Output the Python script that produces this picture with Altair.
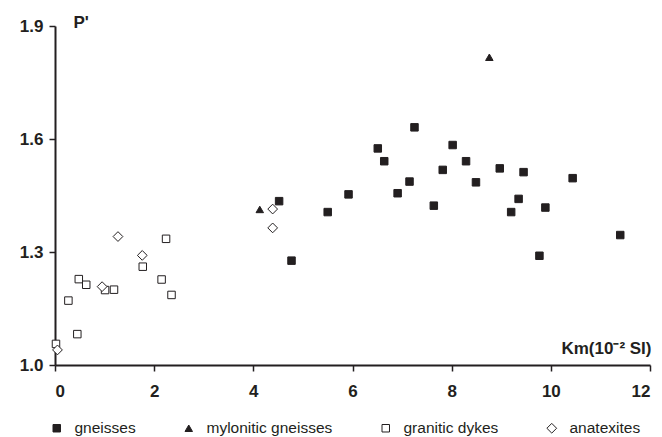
import altair as alt
import pandas as pd

types = ["gneisses", "mylonitic gneisses", "granitic dykes", "anatexites"]

gneiss_km = [4.52, 4.77, 5.50, 5.92, 6.51, 6.64, 6.91, 7.15, 7.25, 7.64, 7.82,
             8.02, 8.29, 8.49, 8.97, 9.20, 9.35, 9.45, 9.77, 9.89, 10.44, 11.40]
gneiss_p = [1.435, 1.277, 1.406, 1.453, 1.575, 1.541, 1.456, 1.487, 1.631, 1.423, 1.518,
            1.584, 1.541, 1.485, 1.522, 1.406, 1.441, 1.512, 1.290, 1.418, 1.496, 1.345]

mylo_km = [4.13, 8.76]
mylo_p = [1.413, 1.817]

dyke_km = [0.02, 0.45, 0.27, 0.48, 0.63, 1.01, 1.19, 1.77, 2.15, 2.24, 2.35]
dyke_p = [1.056, 1.082, 1.171, 1.228, 1.213, 1.199, 1.200, 1.261, 1.227, 1.335, 1.186]

anat_km = [0.05, 0.95, 1.27, 1.76, 4.39, 4.39]
anat_p = [1.040, 1.208, 1.341, 1.291, 1.414, 1.364]

x_ticks = [0, 2, 4, 6, 8, 10, 12]
y_ticks = [1.0, 1.3, 1.6, 1.9]

rows = []
for t, ks, ps in zip(types, [gneiss_km, mylo_km, dyke_km, anat_km],
                     [gneiss_p, mylo_p, dyke_p, anat_p]):
    for k, p in zip(ks, ps):
        rows.append({"km": k, "p": p, "type": t})
df = pd.DataFrame(rows)

ink = "#231f20"
font = "Liberation Sans"

chart = alt.Chart(df).mark_point(filled=True, strokeWidth=1, opacity=1).encode(
    x=alt.X("km:Q", scale=alt.Scale(domain=[0, 12], nice=False, zero=False),
            axis=alt.Axis(values=x_ticks, format="d", title="Km(10\u207b\u00b2 SI)",
                          titleX=596, titleY=-12, titleAlign="right", titleBaseline="alphabetic",
                          titleAngle=0)),
    y=alt.Y("p:Q", scale=alt.Scale(domain=[1.0, 1.9], nice=False, zero=False),
            axis=alt.Axis(values=y_ticks, format=".1f", title="P'",
                          titleX=18, titleY=1, titleAlign="left", titleBaseline="alphabetic",
                          titleAngle=0)),
    shape=alt.Shape("type:N", scale=alt.Scale(domain=types,
                    range=["square", "triangle-up", "square", "diamond"]),
                    legend=alt.Legend(title=None)),
    fill=alt.Fill("type:N", scale=alt.Scale(domain=types,
                  range=[ink, ink, "white", "white"]), legend=alt.Legend(title=None)),
    stroke=alt.Stroke("type:N", scale=alt.Scale(domain=types,
                      range=[ink, ink, ink, ink]), legend=alt.Legend(title=None)),
    size=alt.Size("type:N", scale=alt.Scale(type="ordinal", domain=types,
                  range=[56, 56, 56, 95]),
                  legend=alt.Legend(title=None)),
).properties(
    width=595, height=339,
    autosize=alt.AutoSizeParams(type="none"),
    padding={"left": 47, "top": 18, "right": 4, "bottom": 90},
).configure_view(stroke=None).configure_axis(
    grid=False, domainColor=ink, domainWidth=2, tickColor=ink, tickWidth=1.5, tickSize=6,
    labelFont=font, labelFontSize=17, labelFontWeight="bold", labelColor=ink,
    titleFont=font, titleFontSize=17, titleFontWeight="bold", titleColor=ink,
).configure_axisX(labelPadding=12).configure_axisY(labelPadding=6).configure_legend(
    orient="none", legendX=-6, legendY=394.5, direction="horizontal",
    labelFont=font, labelFontSize=15.5, labelColor=ink, labelOffset=10,
    columnPadding=45, symbolStrokeWidth=1, gridAlign="none",
)

chart.save("out.html", embed_options={"renderer": "svg", "actions": False})
